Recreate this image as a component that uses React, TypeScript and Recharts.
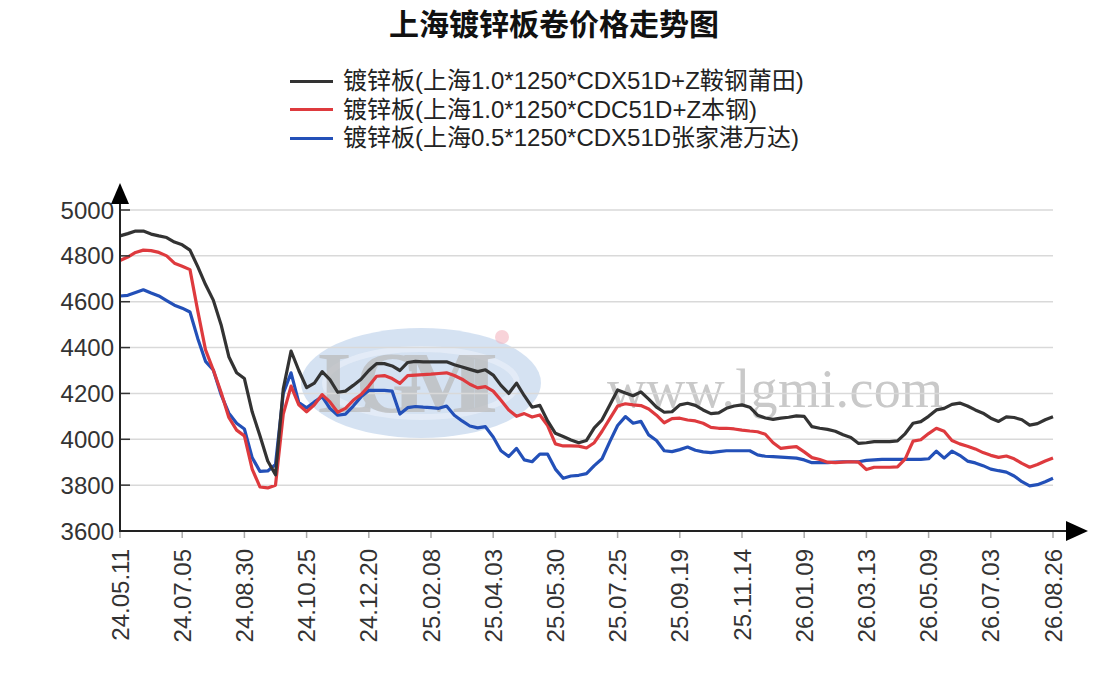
import React from "react";
import { LineChart, Line, XAxis, YAxis, CartesianGrid } from "recharts";

const tickLabels = [
  "24.05.11", "24.07.05", "24.08.30", "24.10.25", "24.12.20", "25.02.08",
  "25.04.03", "25.05.30", "25.07.25", "25.09.19", "25.11.14", "26.01.09",
  "26.03.13", "26.05.09", "26.07.03", "26.08.26",
];

const seriesNames = [
  "镀锌板(上海1.0*1250*CDX51D+Z鞍钢莆田)",
  "镀锌板(上海1.0*1250*CDC51D+Z本钢)",
  "镀锌板(上海0.5*1250*CDX51D张家港万达)",
];

// 鞍钢莆田
const black = [
  4887, 4897, 4908, 4908, 4895, 4887, 4880, 4860, 4848, 4825,
  4753, 4675, 4607, 4500, 4360, 4290, 4265, 4120, 4015, 3905,
  3845, 4220, 4385, 4300, 4225, 4245, 4295, 4260, 4205, 4210,
  4235, 4262, 4300, 4330, 4330, 4320, 4300, 4335, 4340, 4338,
  4338, 4338, 4338, 4325, 4315, 4305, 4295, 4303, 4280, 4235,
  4200, 4245, 4190, 4140, 4148, 4080, 4026, 4012, 3997, 3985,
  3995, 4050, 4085, 4150, 4215, 4202, 4190, 4207, 4175, 4140,
  4118, 4120, 4150, 4157, 4148, 4128, 4112, 4115, 4135, 4145,
  4150, 4140, 4105, 4093, 4087, 4092, 4096, 4102, 4100, 4055,
  4048, 4043, 4035, 4020, 4008, 3982, 3985, 3990, 3990, 3990,
  3993, 4025, 4070, 4077, 4100, 4128, 4135, 4152, 4158, 4145,
  4128, 4114, 4092, 4078, 4098, 4095, 4085, 4062, 4068, 4085,
  4098,
];

// 本钢
const red = [
  4780, 4795, 4815, 4825, 4823, 4815, 4800, 4768, 4755, 4740,
  4560, 4390, 4302, 4205, 4095, 4040, 4015, 3870, 3792, 3788,
  3800, 4110, 4232, 4150, 4120, 4150, 4195, 4163, 4118, 4135,
  4170, 4195, 4232, 4275, 4278, 4265, 4244, 4278, 4280, 4282,
  4284, 4287, 4290, 4278, 4262, 4240, 4224, 4230, 4210, 4170,
  4128, 4100, 4112, 4097, 4106, 4060, 3980, 3971, 3971, 3970,
  3962, 3985, 4035, 4090, 4145, 4155, 4150, 4147, 4132, 4105,
  4072, 4090, 4092, 4084, 4080, 4070, 4052, 4048, 4048, 4045,
  4040, 4036, 4033, 4022, 3985, 3960, 3965, 3968, 3945, 3920,
  3912, 3900, 3898, 3900, 3902, 3900, 3868, 3878, 3878, 3878,
  3880, 3915, 3992, 3998, 4025, 4048, 4035, 3995, 3980, 3970,
  3958, 3942, 3930, 3921, 3927, 3915, 3895, 3878, 3890, 3905,
  3918,
];

// 张家港万达
const blue = [
  4625, 4628, 4640, 4652, 4638, 4625, 4605, 4585, 4572, 4555,
  4440, 4340, 4302, 4195, 4114, 4070, 4045, 3920, 3860, 3862,
  3890, 4200, 4290, 4160, 4137, 4163, 4186, 4135, 4105, 4110,
  4145, 4185, 4213, 4213, 4213, 4210, 4110, 4138, 4143, 4140,
  4138, 4135, 4145, 4105, 4080, 4058, 4050, 4055, 4010, 3950,
  3925, 3960, 3910, 3902, 3935, 3935, 3870, 3830, 3840, 3843,
  3850, 3885, 3915, 3990, 4060, 4099, 4070, 4078, 4019, 3995,
  3950, 3946, 3955, 3966, 3952, 3945, 3942, 3946, 3950, 3950,
  3950, 3950, 3932, 3926, 3924, 3922, 3920, 3918, 3910, 3898,
  3898, 3898, 3900, 3902, 3902, 3902, 3908, 3910, 3912, 3912,
  3912, 3912, 3912, 3912, 3915, 3948, 3918, 3948, 3930, 3905,
  3897, 3885, 3870, 3863, 3857, 3840, 3815, 3797, 3802, 3815,
  3830,
];

const yTicks = [3600, 3800, 4000, 4200, 4400, 4600, 4800, 5000];
const STEP = 8; // points between two date labels
const xTicks = tickLabels.map((_, k) => k * STEP);

const colors = ["#333333", "#de3a3e", "#2350b8"];

const data = black.map((v, i) => ({ i, black: v, red: red[i], blue: blue[i] }));

const FONT = '"Liberation Sans", "Noto Sans CJK SC", sans-serif';

function YTick(props: any) {
  const { y, payload } = props;
  return (
    <g>
      <text x={114} y={y} textAnchor="end" dominantBaseline="central" fontSize={24} fill="#333" fontFamily={FONT}>
        {payload.value}
      </text>
      <line x1={120} x2={130} y1={y} y2={y} stroke="#333" strokeWidth={1.5} />
    </g>
  );
}

function XTick(props: any) {
  const { x, payload } = props;
  const label = tickLabels[Math.round(payload.value / STEP)];
  return (
    <g>
      <line x1={x} x2={x} y1={532} y2={538} stroke="#aaa" strokeWidth={1.5} />
      <text x={x} y={549} transform={`rotate(-90 ${x} 549)`} textAnchor="end" dy="0.36em" fontSize={24} fill="#333" fontFamily={FONT}>
        {label}
      </text>
    </g>
  );
}

export default function App() {
  return (
    <div style={{ position: "absolute", left: 0, top: 0, width: 1108, height: 694, background: "#fff", fontFamily: FONT, overflow: "hidden" }}>
      {/* watermark */}
      <svg width={1108} height={694} style={{ position: "absolute", left: 0, top: 0 }}>
        <ellipse cx={421} cy={383} rx={120} ry={55} fill="#c7d8ee" opacity={0.75} />
        <ellipse cx={421} cy={383} rx={96} ry={34} fill="none" stroke="#e6eef8" strokeWidth={6} opacity={0.8} />
        <text x={318} y={412} fontSize={86} fontWeight="bold" fontFamily='"Liberation Serif", serif' fill="#b9b9b9" opacity={0.7} textLength={180}>
          LGMI
        </text>
        <circle cx={502} cy={337} r={7} fill="#f3b5c0" opacity={0.6} />
        <text x={607} y={407} fontSize={54} fontFamily='"Liberation Serif", serif' fill="#c9c9c9" textLength={336}>
          www.lgmi.com
        </text>
      </svg>

      <div style={{ position: "absolute", left: 0, top: 0 }}>
        <LineChart width={1108} height={694} data={data} margin={{ top: 210, right: 55, bottom: 43, left: 60 }}>
          <CartesianGrid vertical={false} stroke="#d9d9d9" strokeWidth={1.5} />
          <XAxis
            type="number"
            dataKey="i"
            domain={[0, 120]}
            ticks={xTicks}
            interval={0}
            height={120}
            axisLine={false}
            tickLine={false}
            tick={<XTick />}
          />
          <YAxis
            domain={[3600, 5000]}
            ticks={yTicks}
            interval={0}
            width={60}
            axisLine={false}
            tickLine={false}
            tick={<YTick />}
          />
          <Line type="linear" dataKey="blue" name={seriesNames[2]} stroke={colors[2]} strokeWidth={3.2} strokeLinejoin="round" dot={false} isAnimationActive={false} />
          <Line type="linear" dataKey="red" name={seriesNames[1]} stroke={colors[1]} strokeWidth={3.2} strokeLinejoin="round" dot={false} isAnimationActive={false} />
          <Line type="linear" dataKey="black" name={seriesNames[0]} stroke={colors[0]} strokeWidth={3.2} strokeLinejoin="round" dot={false} isAnimationActive={false} />
        </LineChart>
      </div>

      {/* axis lines with arrows */}
      <svg width={1108} height={694} style={{ position: "absolute", left: 0, top: 0, pointerEvents: "none" }}>
        <line x1={120} y1={532} x2={120} y2={200} stroke="#222" strokeWidth={2} />
        <polygon points="120,183 111,204 129,204" fill="#000" />
        <line x1={119} y1={531} x2={1070} y2={531} stroke="#222" strokeWidth={2} />
        <polygon points="1088,531 1066,521 1066,541" fill="#000" />
      </svg>

      <div style={{ position: "absolute", left: 0, top: 2, width: 1108, textAlign: "center", fontSize: 30, fontWeight: "bold", lineHeight: "40px", color: "#111", fontFamily: '"Noto Sans CJK SC", sans-serif' }}>
        上海镀锌板卷价格走势图
      </div>

      <div style={{ position: "absolute", left: 290, top: 67 }}>
        {seriesNames.map((name, k) => (
          <div key={name} style={{ display: "flex", alignItems: "center", height: 28.5 }}>
            <div style={{ width: 43, height: 3, background: colors[k], marginRight: 10 }} />
            <span style={{ fontSize: 24, color: "#222", whiteSpace: "nowrap", lineHeight: "28px" }}>{name}</span>
          </div>
        ))}
      </div>
    </div>
  );
}
